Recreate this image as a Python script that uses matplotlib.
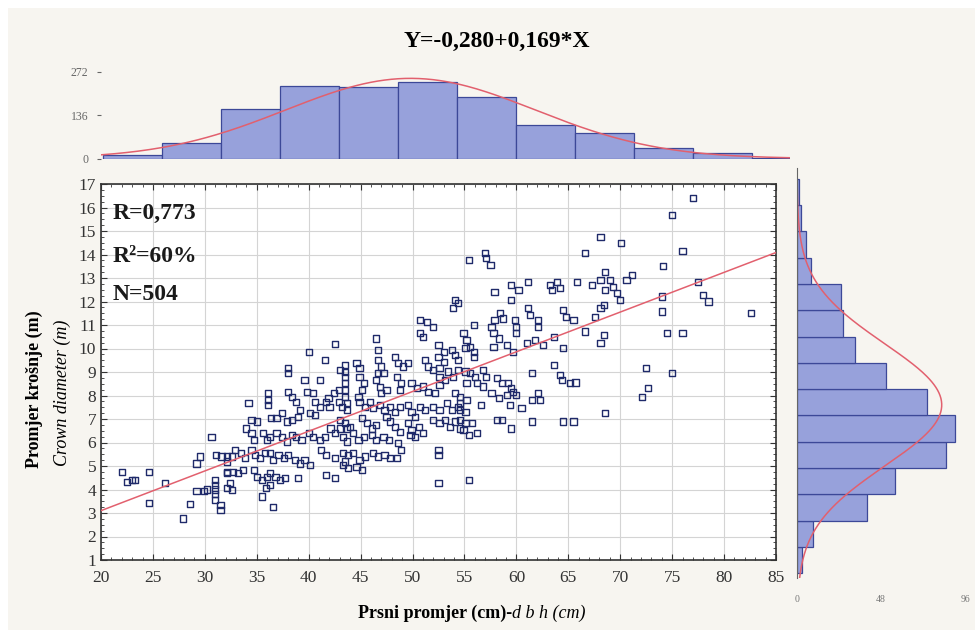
import numpy as np
import matplotlib
matplotlib.use("Agg")
import matplotlib.pyplot as plt
from matplotlib.patches import Rectangle
from matplotlib.ticker import MultipleLocator

plt.rcParams['font.family'] = ['Liberation Serif', 'DejaVu Serif']

# scatter points: (dbh cm, crown diameter m)
points = [
    (22.0, 4.76), (22.5, 4.33), (23.0, 4.40), (23.3, 4.40), (24.65, 4.76), (24.65, 3.41), (26.2, 4.29),
    (27.9, 2.77), (28.6, 3.38), (29.2, 5.11), (29.5, 5.40), (29.2, 3.95), (29.9, 3.95), (30.2, 4.0),
    (30.65, 6.25), (31.1, 5.47), (31.6, 5.40), (31.0, 4.40), (31.0, 4.20), (31.0, 4.00), (31.0, 3.80),
    (31.0, 3.55), (31.5, 3.34), (31.5, 3.13), (32.1, 5.40), (32.1, 4.76), (32.1, 4.06),
    (42.5, 10.19), (40.0, 9.86), (41.6, 9.51), (38.0, 9.16), (38.0, 8.95), (39.6, 8.66), (41.1, 8.66),
    (43.5, 9.30), (43.5, 9.00), (34.2, 7.67), (36.1, 8.09), (36.1, 7.81), (36.1, 7.60), (38.0, 8.16),
    (38.4, 7.95), (38.8, 7.74), (39.8, 8.16), (40.4, 8.09), (40.6, 7.74), (41.9, 7.88), (42.4, 8.09),
    (42.9, 8.23), (43.5, 8.52), (43.5, 8.23), (43.5, 7.95), (34.5, 6.96), (35.0, 6.89), (36.4, 7.03),
    (36.9, 7.03), (37.4, 7.24), (37.9, 6.89), (38.4, 6.96), (39.0, 7.10), (39.2, 7.38), (40.1, 7.24),
    (40.6, 7.17), (41.1, 7.52), (41.7, 7.74), (42.0, 7.52), (42.9, 7.74), (43.2, 7.52), (43.7, 7.38),
    (34.0, 6.60), (34.5, 6.39), (34.7, 6.11), (35.6, 6.39), (36.0, 6.11), (36.3, 6.25), (36.9, 6.39),
    (37.4, 6.25), (37.9, 6.04), (38.4, 6.32), (38.8, 6.25), (39.3, 6.11), (40.0, 6.39), (40.4, 6.25),
    (41.1, 6.11), (41.6, 6.25), (42.1, 6.60), (42.5, 6.39), (43.0, 6.60), (43.7, 6.60), (32.9, 5.68),
    (32.6, 5.40), (32.1, 5.19), (33.5, 5.54), (33.9, 5.33), (34.5, 5.68), (34.8, 5.47), (35.3, 5.33),
    (35.8, 5.54), (36.3, 5.54), (36.6, 5.26), (37.1, 5.47), (37.6, 5.33), (38.0, 5.47), (38.7, 5.26),
    (39.2, 5.11), (39.6, 5.26), (40.1, 5.04), (41.2, 5.68), (41.7, 5.47), (42.5, 5.33), (43.3, 5.54),
    (43.5, 5.19), (32.1, 4.69), (32.7, 4.76), (33.2, 4.69), (33.7, 4.83), (34.7, 4.83), (35.0, 4.54),
    (35.5, 4.40), (36.0, 4.54), (36.3, 4.69), (36.8, 4.54), (37.2, 4.40), (37.7, 4.48), (39.0, 4.48),
    (36.3, 4.19), (35.9, 4.05), (32.4, 4.26), (32.6, 3.98), (41.7, 4.61), (42.5, 4.48), (35.5, 3.70),
    (36.6, 3.27),
    (55.4, 13.77), (54.1, 12.06), (54.4, 11.92), (53.9, 11.71), (50.7, 11.21), (51.4, 11.14), (52.0, 10.93),
    (50.7, 10.65), (51.0, 10.50), (46.5, 10.43), (46.7, 9.94), (54.9, 10.65), (55.2, 10.36), (55.1, 10.01),
    (52.5, 10.15), (53.0, 9.86), (52.5, 9.65), (53.0, 9.44), (53.8, 9.94), (54.1, 9.72), (54.4, 9.51),
    (44.6, 9.37), (44.9, 9.16), (46.7, 9.51), (47.0, 9.23), (47.2, 8.95), (46.7, 8.95), (48.3, 9.65),
    (48.6, 9.37), (49.1, 9.23), (49.6, 9.37), (51.2, 9.51), (51.5, 9.23), (52.0, 9.09), (52.6, 9.16),
    (52.6, 8.80), (52.6, 8.45), (53.1, 8.66), (53.4, 9.02), (53.9, 8.80), (54.4, 9.09), (55.1, 9.02),
    (43.0, 9.09), (43.5, 8.80), (44.9, 8.80), (45.3, 8.52), (45.1, 8.23), (44.8, 7.95), (46.5, 8.66),
    (46.9, 8.37), (47.0, 8.09), (47.5, 8.23), (48.5, 8.80), (48.9, 8.52), (48.8, 8.23), (49.9, 8.52),
    (50.4, 8.31), (51.0, 8.38), (51.5, 8.16), (52.2, 8.09), (54.1, 8.09), (54.6, 7.95), (55.2, 7.81),
    (43.7, 7.67), (44.9, 7.74), (45.4, 7.52), (45.9, 7.74), (46.2, 7.46), (46.9, 7.60), (47.3, 7.38),
    (47.8, 7.52), (48.3, 7.31), (48.8, 7.52), (49.6, 7.60), (49.9, 7.31), (50.2, 7.10), (50.7, 7.52),
    (51.2, 7.38), (52.0, 7.52), (52.6, 7.38), (53.3, 7.67), (53.8, 7.38), (54.4, 7.52), (55.1, 7.31),
    (43.0, 6.96), (43.5, 6.82), (44.0, 6.67), (45.1, 7.03), (45.6, 6.82), (46.1, 6.60), (46.5, 6.75),
    (47.5, 7.10), (47.8, 6.89), (48.3, 6.67), (48.8, 6.46), (49.6, 6.82), (49.9, 6.53), (50.6, 6.67),
    (51.0, 6.39), (52.0, 6.96), (52.6, 6.82), (53.1, 6.96), (53.6, 6.67), (54.1, 6.89), (54.6, 6.60),
    (55.1, 6.82), (43.3, 6.25), (43.7, 6.04), (44.3, 6.39), (44.8, 6.11), (45.3, 6.25), (46.1, 6.32),
    (46.5, 6.11), (47.2, 6.25), (47.7, 6.11), (48.6, 5.97), (48.9, 5.68), (49.8, 6.32), (50.2, 6.25),
    (43.8, 5.47), (44.3, 5.54), (44.9, 5.26), (45.4, 5.40), (46.2, 5.54), (46.7, 5.40), (47.3, 5.47),
    (47.8, 5.33), (48.5, 5.33), (43.3, 5.04), (43.8, 4.90), (44.6, 4.97), (45.1, 4.83), (52.5, 5.68),
    (52.5, 5.47), (52.5, 4.26), (55.4, 4.40),
    (57.0, 14.05), (57.1, 13.84), (57.5, 13.55), (59.5, 12.70), (60.2, 12.49), (61.1, 12.84), (57.9, 12.42),
    (59.5, 12.06), (63.2, 12.70), (63.4, 12.49), (63.9, 12.84), (64.2, 12.56), (65.8, 12.84), (61.1, 11.71),
    (61.3, 11.43), (62.1, 11.21), (62.1, 10.93), (58.4, 11.50), (58.7, 11.28), (57.9, 11.21), (59.9, 11.21),
    (60.0, 10.93), (60.0, 10.65), (57.6, 10.93), (57.8, 10.65), (58.3, 10.43), (55.9, 11.00), (64.5, 11.64),
    (64.8, 11.35), (65.5, 11.21), (55.5, 10.08), (55.9, 9.86), (55.9, 9.65), (57.8, 10.08), (59.1, 10.15),
    (59.7, 9.86), (61.0, 10.22), (61.8, 10.36), (62.6, 10.15), (63.6, 10.50), (64.5, 10.01), (63.6, 9.30),
    (64.2, 8.87), (64.4, 8.66), (65.2, 8.52), (65.7, 8.55), (61.5, 8.95), (55.5, 8.95), (56.0, 8.80),
    (56.8, 9.09), (57.1, 8.80), (55.2, 8.52), (56.2, 8.52), (56.8, 8.38), (58.1, 8.73), (58.6, 8.52),
    (59.2, 8.52), (59.5, 8.31), (57.6, 8.09), (58.3, 7.88), (59.1, 8.02), (59.7, 8.16), (60.0, 8.02),
    (62.1, 8.09), (62.3, 7.81), (61.5, 7.81), (54.6, 7.67), (54.6, 7.38), (56.6, 7.60), (59.4, 7.60),
    (60.5, 7.46), (58.1, 6.96), (58.6, 6.96), (59.5, 6.60), (61.5, 6.89), (64.5, 6.89), (65.5, 6.89),
    (54.6, 6.96), (55.7, 6.82), (56.2, 6.39), (54.9, 6.53), (55.4, 6.32),
    (77.0, 16.39), (75.0, 15.68), (68.1, 14.73), (70.1, 14.50), (66.6, 14.05), (76.0, 14.16), (74.1, 13.51),
    (68.5, 13.27), (69.0, 12.91), (68.1, 12.91), (67.3, 12.70), (68.5, 12.49), (69.3, 12.63), (69.7, 12.35),
    (70.0, 12.06), (70.6, 12.91), (71.1, 13.13), (68.4, 11.85), (68.1, 11.71), (67.6, 11.35), (66.6, 10.72),
    (68.4, 10.57), (68.1, 10.22), (74.0, 12.21), (77.5, 12.84), (78.0, 12.28), (78.5, 12.00), (74.0, 11.57),
    (82.6, 11.50), (74.5, 10.67), (76.0, 10.67), (72.5, 9.16), (75.0, 8.95), (72.7, 8.31), (72.1, 7.92),
    (68.5, 7.24),
]
dbh = [p[0] for p in points]
crown = [p[1] for p in points]

# regression from the title, Y = b0 + b1*X
b0, b1 = -0.280, 0.169
title = "Y=-0,280+0,169*X"
stats = ["R=0,773", "R\u00b2=60%", "N=504"]

# marginal histograms as printed
top_edges = [20.2, 25.88, 31.56, 37.24, 42.92, 48.6, 54.28, 59.96, 65.64, 71.32, 77.0, 82.68, 88.36]
top_counts = [12, 49, 156, 229, 226, 242, 194, 106, 81, 33, 17, 2]
top_ticks = [0, 136, 272]
top_fit = (49.8, 12.0, 252)   # mean, sd, peak of fitted normal curve

right_edges = [0.43, 1.55, 2.67, 3.79, 4.91, 6.03, 7.15, 8.27, 9.39, 10.51, 11.63, 12.75, 13.87, 14.99, 16.11, 17.23]
right_counts = [3, 9, 40, 56, 85, 90, 74, 51, 33, 26, 25, 8, 5, 2, 1]
right_ticks = [0, 48, 96]
right_fit = (7.6, 2.6, 82.7)

bar_face = '#97a1db'
bar_edge = '#3c4898'
red = '#e2606e'
W, H = 975, 630


def fx(px):
    return px / W


def fy(py):
    return 1 - py / H


fig = plt.figure(figsize=(9.75, 6.3), dpi=100, facecolor='white')
fig.patches.append(Rectangle((fx(8), 0), 1, fy(8), transform=fig.transFigure,
                             facecolor='#f7f5f0', edgecolor='none', zorder=-10))

# main scatter
ax = fig.add_axes([fx(101), fy(560), fx(776) - fx(101), fy(184) - fy(560)])
ax.set_facecolor('white')
ax.scatter(dbh, crown, marker='s', s=20, facecolors='none', edgecolors='#1f2a6a', linewidths=1.0, zorder=3)
xs = np.array([20, 85])
ax.plot(xs, b0 + b1 * xs, color=red, lw=1.1, zorder=4)
ax.set_xlim(20, 85)
ax.set_ylim(1, 17)
ax.xaxis.set_major_locator(MultipleLocator(5))
ax.yaxis.set_major_locator(MultipleLocator(1))
ax.xaxis.set_minor_locator(MultipleLocator(1))
ax.yaxis.set_minor_locator(MultipleLocator(0.25))
ax.grid(True, which='major', color='#d4d4d4', lw=0.8, zorder=0)
ax.tick_params(which='both', direction='in', top=True, right=True, colors='#333333', labelsize=12.5)
ax.tick_params(which='major', length=4)
ax.tick_params(which='minor', length=2)
ax.tick_params(axis='x', pad=7)
for s in ax.spines.values():
    s.set_color('#333333')
    s.set_linewidth(1.2)

for txt, py in zip(stats, [213, 256, 294]):
    ax.text(fx(113), fy(py), txt, transform=fig.transFigure, fontsize=17, fontweight='bold',
            va='center', ha='left', color='#1a1a1a')

# top histogram
axt = fig.add_axes([fx(101), fy(158.5), fx(790) - fx(101), fy(72) - fy(158.5)])
axt.patch.set_alpha(0)
axt.bar(top_edges[:-1], top_counts, width=np.diff(top_edges), align='edge',
        color=bar_face, edgecolor=bar_edge, linewidth=0.9)
xt = np.linspace(20, 86.35, 300)
m, sd, pk = top_fit
axt.plot(xt, pk * np.exp(-0.5 * ((xt - m) / sd) ** 2), color=red, lw=1.1)
axt.set_xlim(20, 86.35)
axt.set_ylim(0, 272)
axt.set_yticks(top_ticks)
axt.set_xticks([])
for s in axt.spines.values():
    s.set_visible(False)
axt.tick_params(axis='y', length=3, colors='#666666', labelsize=8.5, pad=6)

# right histogram
axr = fig.add_axes([fx(797), fy(578), fx(965) - fx(797), fy(168) - fy(578)])
axr.patch.set_alpha(0)
axr.barh(right_edges[:-1], right_counts, height=np.diff(right_edges), align='edge',
         color=bar_face, edgecolor=bar_edge, linewidth=0.9)
yr = np.linspace(0.234, 17.68, 300)
m, sd, pk = right_fit
axr.plot(pk * np.exp(-0.5 * ((yr - m) / sd) ** 2), yr, color=red, lw=1.1)
axr.set_ylim(0.234, 17.68)
axr.set_xlim(0, 96)
axr.set_xticks(right_ticks)
axr.set_yticks([])
for k in ['top', 'right', 'bottom']:
    axr.spines[k].set_visible(False)
axr.spines['left'].set_color('#666666')
axr.tick_params(axis='x', length=0, colors='#777777', labelsize=7, pad=12)

# titles and labels
fig.text(fx(497), fy(41), title, fontsize=17, fontweight='bold', ha='center', va='center')
fig.text(fx(512), fy(613), "Prsni promjer (cm)-", fontsize=13, fontweight='bold', ha='right', va='center')
fig.text(fx(512), fy(613), "d b h (cm)", fontsize=13, style='italic', ha='left', va='center')
fig.text(fx(34), fy(389), "Promjer krošnje (m)", fontsize=13, fontweight='bold', rotation=90,
         ha='center', va='center')
fig.text(fx(62), fy(393), "Crown diameter (m)", fontsize=13, style='italic', rotation=90,
         ha='center', va='center')

fig.savefig("out.png", dpi=100, facecolor=fig.get_facecolor())
